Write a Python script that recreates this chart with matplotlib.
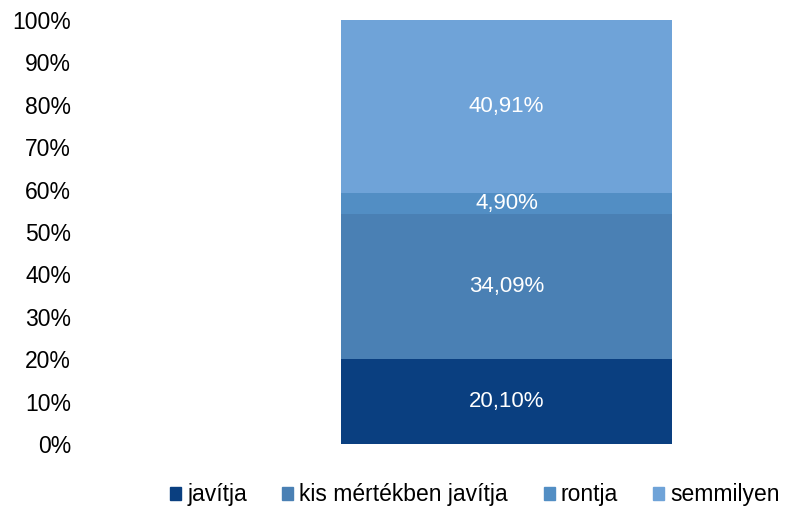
import matplotlib.pyplot as plt
from matplotlib.patches import Patch

plt.rcParams['font.family'] = ['Liberation Sans', 'DejaVu Sans']

categories = ['javítja', 'kis mértékben javítja', 'rontja', 'semmilyen']
values = [20.10, 34.09, 4.90, 40.91]
colors = ['#0A3F80', '#4A80B4', '#528EC4', '#6FA3D8']
yticks = list(range(0, 101, 10))

fig = plt.figure(figsize=(7.86, 5.07), dpi=100)
ax = fig.add_axes([78 / 786, 1 - 444 / 507, 1 - 78 / 786, 424 / 507])

bottom = 0
for name, val, col in zip(categories, values, colors):
    ax.bar(0, val, width=0.6, bottom=bottom, color=col, label=name)
    ax.text(0, bottom + val / 2, f'{val:.2f}%'.replace('.', ','),
            ha='center', va='center', color='white', fontsize=16)
    bottom += val

ax.set_xlim(-0.777, 0.507)
ax.set_ylim(0, 100)
ax.set_yticks(yticks)
ax.set_yticklabels([f'{t}%' for t in yticks], fontsize=16.5)
ax.set_xticks([])
ax.tick_params(axis='y', length=0, pad=5)
for s in ax.spines.values():
    s.set_visible(False)

handles = [Patch(color=c, label=n) for n, c in zip(categories, colors)]
fig.legend(handles=handles, loc='center', bbox_to_anchor=(475 / 786, 1 - 495 / 507),
           ncol=4, frameon=False, fontsize=16.5, handlelength=0.48, handleheight=0.48,
           handletextpad=0.26, columnspacing=1.55)

plt.savefig('out.png', dpi=100)
